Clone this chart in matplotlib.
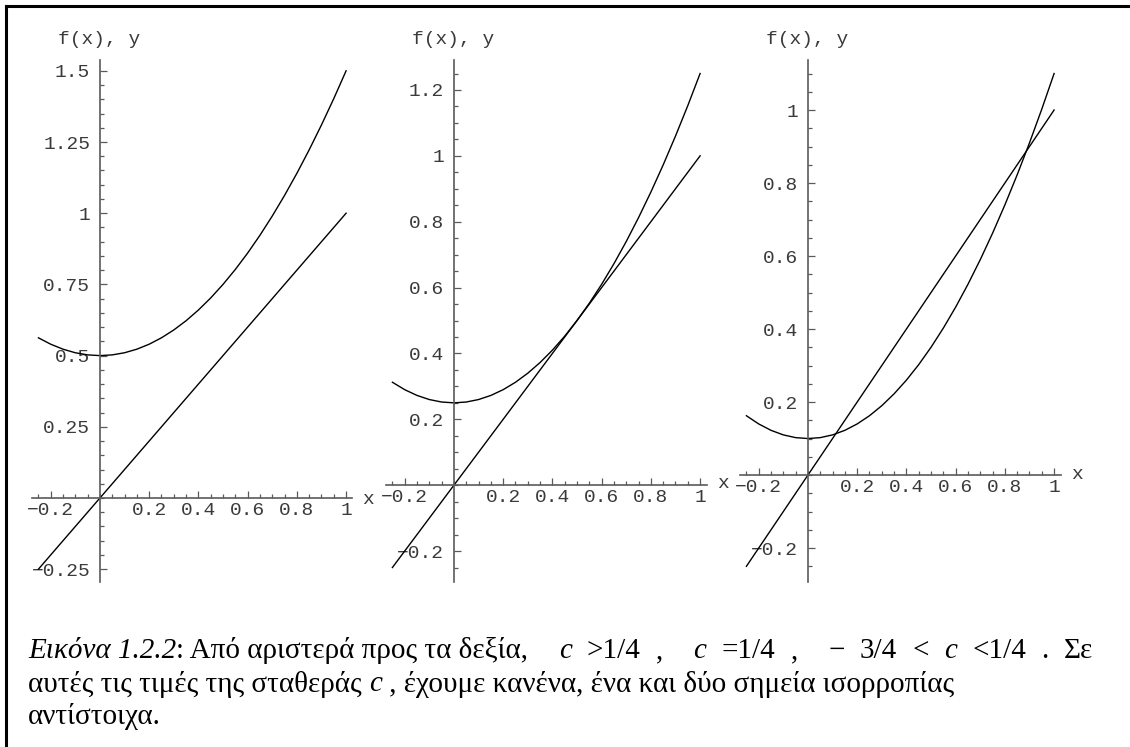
import numpy as np
import matplotlib
matplotlib.use("Agg")
import matplotlib.pyplot as plt
from matplotlib.lines import Line2D

# Τιμές που διαβάστηκαν από το σχήμα
x_vals = [-0.25, -0.2, -0.15, -0.1, -0.05, 0.0, 0.05, 0.1, 0.15, 0.2, 0.25, 0.3, 0.35,
          0.4, 0.45, 0.5, 0.55, 0.6, 0.65, 0.7, 0.75, 0.8, 0.85, 0.9, 0.95, 1.0]

f_left = [0.5625, 0.54, 0.5225, 0.51, 0.5025, 0.5, 0.5025, 0.51, 0.5225, 0.54, 0.5625, 0.59, 0.6225,
          0.66, 0.7025, 0.75, 0.8025, 0.86, 0.9225, 0.99, 1.0625, 1.14, 1.2225, 1.31, 1.4025, 1.5]
f_mid = [0.3125, 0.29, 0.2725, 0.26, 0.2525, 0.25, 0.2525, 0.26, 0.2725, 0.29, 0.3125, 0.34, 0.3725,
         0.41, 0.4525, 0.5, 0.5525, 0.61, 0.6725, 0.74, 0.8125, 0.89, 0.9725, 1.06, 1.1525, 1.25]
f_right = [0.1625, 0.14, 0.1225, 0.11, 0.1025, 0.1, 0.1025, 0.11, 0.1225, 0.14, 0.1625, 0.19, 0.2225,
           0.26, 0.3025, 0.35, 0.4025, 0.46, 0.5225, 0.59, 0.6625, 0.74, 0.8225, 0.91, 1.0025, 1.1]

line_x = [-0.25, 1.0]
line_y = [-0.25, 1.0]

x_ticks = [-0.2, 0.2, 0.4, 0.6, 0.8, 1.0]
x_labels = ["-0.2", "0.2", "0.4", "0.6", "0.8", "1"]

y_ticks_left = [-0.25, 0.25, 0.5, 0.75, 1.0, 1.25, 1.5]
y_labels_left = ["-0.25", "0.25", "0.5", "0.75", "1", "1.25", "1.5"]
y_ticks_mid = [-0.2, 0.2, 0.4, 0.6, 0.8, 1.0, 1.2]
y_labels_mid = ["-0.2", "0.2", "0.4", "0.6", "0.8", "1", "1.2"]
y_ticks_right = [-0.2, 0.2, 0.4, 0.6, 0.8, 1.0]
y_labels_right = ["-0.2", "0.2", "0.4", "0.6", "0.8", "1"]

plt.rcParams['font.family'] = ['Liberation Mono', 'DejaVu Sans Mono']

W, H = 1130, 747
fig = plt.figure(figsize=(W / 100, H / 100), dpi=100)
fig.patch.set_facecolor('white')

# πλαίσιο (μόνο πάνω και αριστερά φαίνονται)
fig.add_artist(Line2D([6 / W, 1.0], [1 - 6 / H, 1 - 6 / H], color='black', lw=2.2))
fig.add_artist(Line2D([6 / W, 6 / W], [1 - 6 / H, 0.0], color='black', lw=2.2))

axis_col = '#5a5a5a'
lab_col = '#3a3a3a'
tick_fs = 14

# (αριστερό pixel, δεξί pixel, xlim, ylim)
panels = [
    (32, 352, (-0.276, 1.024), (-0.295, 1.538), f_left, y_ticks_left, y_labels_left, -2),
    (386, 707, (-0.276, 1.028), (-0.294, 1.291), f_mid, y_ticks_mid, y_labels_mid, 2),
    (740, 1061, (-0.276, 1.028), (-0.293, 1.137), f_right, y_ticks_right, y_labels_right, 1),
]

top_px, bot_px = 60, 582
for left_px, right_px, xl, yl, fy, yt, ytl, xoff in panels:
    ax = fig.add_axes([left_px / W, (H - bot_px) / H, (right_px - left_px) / W, (bot_px - top_px) / H])
    ax.set_xlim(*xl)
    ax.set_ylim(*yl)
    ax.patch.set_alpha(0)

    ax.plot(x_vals, fy, color='black', lw=1.0)
    ax.plot(line_x, line_y, color='black', lw=1.0)

    for s in ['top', 'right']:
        ax.spines[s].set_visible(False)
    ax.spines['left'].set_position(('data', 0))
    ax.spines['bottom'].set_position(('data', 0))
    for s in ['left', 'bottom']:
        ax.spines[s].set_color(axis_col)
        ax.spines[s].set_linewidth(1.2)

    ax.set_xticks(x_ticks)
    ax.set_xticklabels([t.replace('-', '\u2212') for t in x_labels])
    ax.set_yticks(yt)
    ax.set_yticklabels([t.replace('-', '\u2212') for t in ytl])
    ax.set_xticks(np.arange(-0.25, 1.001, 0.05), minor=True)
    ax.set_yticks(np.arange(np.ceil(yl[0] / 0.05) * 0.05, yl[1], 0.05), minor=True)

    ax.tick_params(which='both', direction='in', color=axis_col, width=0.9,
                   labelcolor=lab_col, labelsize=tick_fs)
    ax.tick_params(which='major', length=5)
    ax.tick_params(which='minor', length=3)
    ax.tick_params(axis='x', pad=3)
    ax.tick_params(axis='y', pad=7)

    ax.annotate("f(x), y", xy=(0, 1), xycoords=('data', 'axes fraction'),
                xytext=(-42, 20), textcoords='offset pixels',
                ha='left', va='center', fontsize=tick_fs, color=lab_col)
    ax.annotate("x", xy=(1, 0), xycoords=('axes fraction', 'data'),
                xytext=(16, xoff), textcoords='offset pixels',
                ha='center', va='center', fontsize=tick_fs, color=lab_col)

# λεζάντα με μικτή γραφή (πλάγια / όρθια)
serif = ['Liberation Serif', 'DejaVu Serif']
cap_size = 21
line1_head = [("Εικόνα 1.2.2", 'italic'), (": Από αριστερά προς τα δεξία,", 'normal')]
# (κείμενο, στυλ, βάρος κενού πριν)
line1_math = [("c", 'italic', 2), (">1/4", 'normal', 1), (",", 'normal', 1), ("c", 'italic', 2),
              ("=1/4", 'normal', 1), (",", 'normal', 1), ("\u2212", 'normal', 2), ("3/4", 'normal', 1),
              ("<", 'normal', 1), ("c", 'italic', 1), ("<1/4", 'normal', 1), (".", 'normal', 1),
              ("Σε", 'normal', 1)]
line2 = [("αυτές τις τιμές της σταθεράς ", 'normal'), ("c", 'italic'),
         (" , έχουμε κανένα, ένα και δύο σημεία ισορροπίας", 'normal')]
line3 = [("αντίστοιχα.", 'normal')]
line_y_px = [651, 684, 716]
line1_end = 1093

fig.canvas.draw()
renderer = fig.canvas.get_renderer()


def put(txt, style, xpx, ypx):
    t = fig.text(xpx / W, 1 - ypx / H, txt, family=serif, style=style,
                 fontsize=cap_size, color='black', ha='left', va='center')
    return t.get_window_extent(renderer).width


# γραμμή 1: κείμενο και μετά απλωμένα τα μαθηματικά
xpx = 28
for txt, style in line1_head:
    xpx += put(txt, style, xpx, line_y_px[0])
widths = []
for txt, style, _ in line1_math:
    t = fig.text(0, 0, txt, family=serif, style=style, fontsize=cap_size)
    widths.append(t.get_window_extent(renderer).width)
    t.remove()
unit = (line1_end - xpx - sum(widths)) / sum(m[2] for m in line1_math)
for (txt, style, wgt), w in zip(line1_math, widths):
    xpx += unit * wgt
    put(txt, style, xpx, line_y_px[0])
    xpx += w

for segs, ypx in [(line2, line_y_px[1]), (line3, line_y_px[2])]:
    xpx = 28
    for txt, style in segs:
        xpx += put(txt, style, xpx, ypx)

fig.savefig("out.png", dpi=100, facecolor='white')
